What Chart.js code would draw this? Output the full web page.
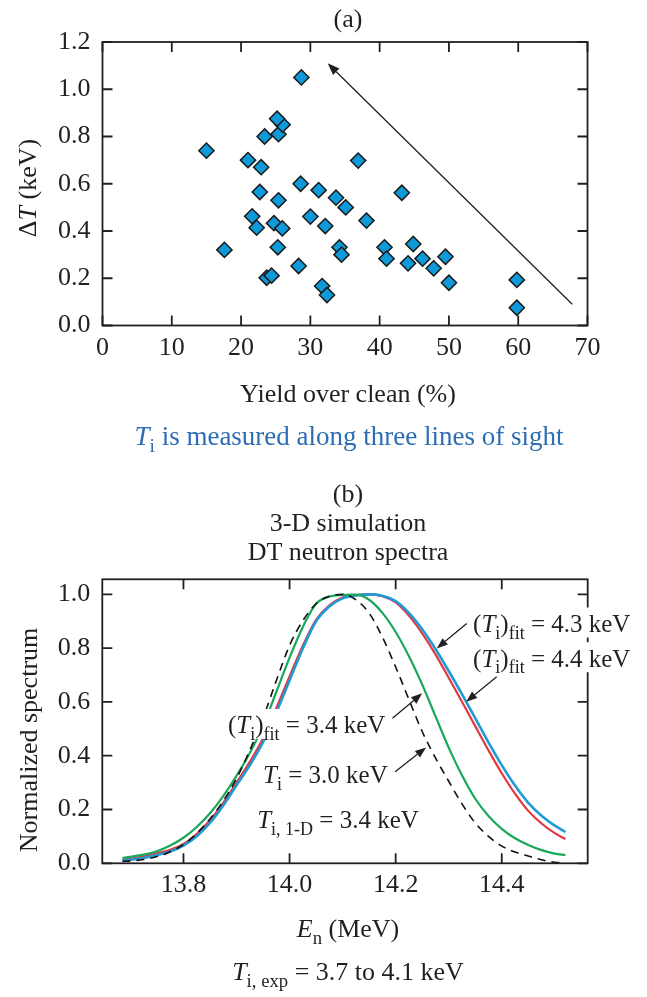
<!DOCTYPE html>
<html>
<head>
<meta charset="utf-8">
<script src="https://cdn.jsdelivr.net/npm/chart.js@4/dist/chart.umd.min.js"></script>
<style>
  html, body { margin: 0; padding: 0; background: #fff; }
  #wrap { position: relative; width: 647px; height: 997px; overflow: hidden; background: #fff; }
  canvas { position: absolute; left: 0; }
  #chartA { top: 0; }
  #chartB { top: 460px; }
</style>
</head>
<body>
<div id="wrap">
  <canvas id="chartA" width="647" height="460"></canvas>
  <canvas id="chartB" width="647" height="537"></canvas>
</div>
<script>
// ---------- panel (a): temperature difference vs. yield ----------
const yieldOverClean = [15.0, 21.0, 22.9, 23.4, 25.4, 26.0, 25.2, 28.7, 22.7, 25.4,
                        28.6, 31.2, 33.7, 35.1, 36.9, 38.1, 21.6, 22.25, 24.75, 25.95,
                        30.0, 32.15, 17.6, 25.3, 34.2, 34.5, 40.7, 41.0, 28.3, 23.7,
                        24.4, 31.7, 32.4, 43.2, 44.85, 44.1, 46.2, 47.8, 49.5, 50.0,
                        59.8, 59.8];
const deltaT = [0.74, 0.70, 0.67, 0.80, 0.81, 0.85, 0.875, 1.05, 0.565, 0.53,
                0.60, 0.573, 0.541, 0.50, 0.698, 0.444, 0.462, 0.414, 0.433, 0.411,
                0.461, 0.421, 0.32, 0.331, 0.331, 0.30, 0.331, 0.283, 0.252, 0.202,
                0.211, 0.167, 0.129, 0.562, 0.345, 0.263, 0.283, 0.242, 0.291, 0.181,
                0.193, 0.075];
const xTicksA = [0, 10, 20, 30, 40, 50, 60, 70];
const yTicksA = [0, 0.2, 0.4, 0.6, 0.8, 1.0, 1.2];
const trendTail = [67.8, 0.09];
const trendHead = [32.5, 1.11];

// ---------- panel (b): DT neutron spectra ----------
const energyMeV = [13.685, 13.700, 13.725, 13.750, 13.775, 13.800, 13.825, 13.850, 13.875,
                   13.900, 13.925, 13.950, 13.975, 14.000, 14.025, 14.050, 14.075, 14.100,
                   14.125, 14.150, 14.175, 14.200, 14.225, 14.250, 14.275, 14.300, 14.325,
                   14.350, 14.375, 14.400, 14.425, 14.450, 14.475, 14.500, 14.520];
const specFit44 = [0.010, 0.013, 0.020, 0.031, 0.044, 0.066, 0.101, 0.150, 0.215,
                   0.290, 0.364, 0.450, 0.561, 0.680, 0.799, 0.900, 0.955, 0.985,
                   0.996, 1.000, 0.995, 0.975, 0.931, 0.870, 0.797, 0.715, 0.629,
                   0.540, 0.450, 0.365, 0.289, 0.225, 0.177, 0.140, 0.117];
const specFit43 = [0.014, 0.017, 0.025, 0.037, 0.050, 0.072, 0.109, 0.160, 0.225,
                   0.300, 0.377, 0.465, 0.577, 0.695, 0.809, 0.905, 0.959, 0.988,
                   0.997, 1.000, 0.993, 0.970, 0.921, 0.855, 0.777, 0.690, 0.601,
                   0.510, 0.420, 0.335, 0.259, 0.195, 0.148, 0.112, 0.090];
const specFit34 = [0.020, 0.024, 0.032, 0.045, 0.066, 0.095, 0.135, 0.186, 0.250,
                   0.325, 0.410, 0.510, 0.637, 0.765, 0.879, 0.965, 0.992, 0.998,
                   0.999, 0.980, 0.931, 0.860, 0.770, 0.665, 0.547, 0.430, 0.327,
                   0.240, 0.176, 0.128, 0.093, 0.068, 0.049, 0.036, 0.031];
const specTi30  = [0.007, 0.009, 0.014, 0.025, 0.043, 0.070, 0.111, 0.165, 0.232,
                   0.315, 0.420, 0.540, 0.679, 0.810, 0.902, 0.965, 0.993, 1.000,
                   0.980, 0.930, 0.841, 0.730, 0.609, 0.490, 0.392, 0.305, 0.221,
                   0.150, 0.100, 0.064, 0.042, 0.027, 0.013, 0.004, 0.001];
const xTicksB = [13.8, 14.0, 14.2, 14.4];
const yTicksB = [0, 0.2, 0.4, 0.6, 0.8, 1.0];

// ---------- shared styling ----------
const FONT = "'Liberation Serif', 'Times New Roman', Times, serif";
const INK = '#231f20';
const TICK_LEN = 10;
const N = 0, I = 1, S = 2;   // normal, italic, subscript

function partFont(p, size) {
  const s = p[1] === S ? size * 0.72 : size;
  return (p[1] === I ? 'italic ' : '') + s + 'px ' + FONT;
}
function richWidth(ctx, parts, size) {
  let w = 0;
  for (const p of parts) { ctx.font = partFont(p, size); w += ctx.measureText(p[0]).width; }
  return w;
}
function drawRich(ctx, parts, x, y, size, align, color) {
  const w = richWidth(ctx, parts, size);
  let cx = align === 'center' ? x - w / 2 : (align === 'right' ? x - w : x);
  ctx.fillStyle = color;
  ctx.textAlign = 'left';
  ctx.textBaseline = 'alphabetic';
  for (const p of parts) {
    ctx.font = partFont(p, size);
    ctx.fillText(p[0], cx, y + (p[1] === S ? size * 0.27 : 0));
    cx += ctx.measureText(p[0]).width;
  }
  return w;
}
function drawArrow(ctx, x0, y0, x1, y1, head, half) {
  const a = Math.atan2(y1 - y0, x1 - x0);
  const bx = x1 - Math.cos(a) * head, by = y1 - Math.sin(a) * head;
  ctx.beginPath();
  ctx.moveTo(x0, y0);
  ctx.lineTo(bx, by);
  ctx.stroke();
  ctx.beginPath();
  ctx.moveTo(x1, y1);
  ctx.lineTo(bx + Math.sin(a) * half, by - Math.cos(a) * half);
  ctx.lineTo(bx - Math.sin(a) * half, by + Math.cos(a) * half);
  ctx.closePath();
  ctx.fill();
}
function drawFrame(chart, xt, yt) {
  const { ctx, chartArea: a, scales: { x, y } } = chart;
  ctx.save();
  ctx.strokeStyle = INK;
  ctx.lineWidth = 1.8;
  ctx.strokeRect(a.left, a.top, a.right - a.left, a.bottom - a.top);
  ctx.beginPath();
  for (const v of xt) {
    const px = x.getPixelForValue(v);
    ctx.moveTo(px, a.bottom); ctx.lineTo(px, a.bottom - TICK_LEN);
    ctx.moveTo(px, a.top);    ctx.lineTo(px, a.top + TICK_LEN);
  }
  for (const v of yt) {
    const py = y.getPixelForValue(v);
    ctx.moveTo(a.left, py);  ctx.lineTo(a.left + TICK_LEN, py);
    ctx.moveTo(a.right, py); ctx.lineTo(a.right - TICK_LEN, py);
  }
  ctx.stroke();
  ctx.restore();
}
function axisConf(min, max, ticks, fmt, fit, pad, horizontal) {
  return {
    type: 'linear', min, max,
    afterBuildTicks: s => { s.ticks = ticks.map(v => ({ value: v })); },
    afterFit: s => { if (horizontal) s.height = fit; else s.width = fit; },
    grid: { display: false, drawTicks: false },
    border: { display: false },
    ticks: {
      padding: pad, color: INK, font: { family: FONT, size: 26 },
      autoSkip: false, maxRotation: 0, minRotation: 0,
      callback: v => fmt(v)
    }
  };
}

// ---------- panel (a) ----------
const panelA = {
  id: 'panelA',
  afterDraw(chart) {
    const { ctx, scales: { x, y } } = chart;
    drawFrame(chart, xTicksA, yTicksA);
    ctx.save();
    ctx.strokeStyle = INK; ctx.fillStyle = INK; ctx.lineWidth = 1.3;
    drawArrow(ctx, x.getPixelForValue(trendTail[0]), y.getPixelForValue(trendTail[1]),
                   x.getPixelForValue(trendHead[0]), y.getPixelForValue(trendHead[1]), 12, 4.5);
    drawRich(ctx, [['(a)', N]], 348, 27, 26, 'center', INK);
    drawRich(ctx, [['Yield over clean (%)', N]], 348, 402, 26, 'center', INK);
    drawRich(ctx, [['T', I], ['i', S], [' is measured along three lines of sight', N]],
             349, 445, 27, 'center', '#2e6db4');
    ctx.translate(36, 188);
    ctx.rotate(-Math.PI / 2);
    drawRich(ctx, [['\u0394', N], ['T', I], [' (keV)', N]], 0, 0, 26, 'center', INK);
    ctx.restore();
  }
};

new Chart(document.getElementById('chartA'), {
  type: 'scatter',
  data: {
    datasets: [{
      data: yieldOverClean.map((v, i) => ({ x: v, y: deltaT[i] })),
      pointStyle: 'rectRot',
      pointRadius: 7.6,
      pointBackgroundColor: '#0e9ad8',
      pointBorderColor: '#1a1a1a',
      pointBorderWidth: 1.5
    }]
  },
  options: {
    responsive: false, animation: false, devicePixelRatio: 1, events: [],
    layout: { padding: { top: 42, right: 59.5, left: 0, bottom: 0 } },
    plugins: { legend: { display: false }, tooltip: { enabled: false } },
    scales: {
      x: axisConf(0, 70, xTicksA, v => String(v), 134.5, 7, true),
      y: axisConf(0, 1.2, yTicksA, v => v.toFixed(1), 102.5, 12, false)
    }
  },
  plugins: [panelA]
});

// ---------- panel (b) ----------
const notesB = [
  { parts: [['(', N], ['T', I], ['i', S], [')', N], ['fit', S], [' = 4.3 keV', N]],
    at: [14.346, 0.860], tail: [14.334, 0.892], tip: [14.2775, 0.799] },
  { parts: [['(', N], ['T', I], ['i', S], [')', N], ['fit', S], [' = 4.4 keV', N]],
    at: [14.346, 0.731], tail: [14.3905, 0.694], tip: [14.333, 0.601] },
  { parts: [['(', N], ['T', I], ['i', S], [')', N], ['fit', S], [' = 3.4 keV', N]],
    at: [13.884, 0.483], tail: [14.194, 0.539], tip: [14.2498, 0.632] },
  { parts: [['T', I], ['i', S], [' = 3.0 keV', N]],
    at: [13.950, 0.297], tail: [14.199, 0.3405], tip: [14.2573, 0.4305] },
  { parts: [['T', I], ['i, 1-D', S], [' = 3.4 keV', N]],
    at: [13.939, 0.130] }
];

const panelB = {
  id: 'panelB',
  afterDraw(chart) {
    const { ctx, scales: { x, y } } = chart;
    drawFrame(chart, xTicksB, yTicksB);
    ctx.save();
    const size = 25;
    // clear a box under each label, then write it
    for (const n of notesB) {
      const px = x.getPixelForValue(n.at[0]), py = y.getPixelForValue(n.at[1]);
      const w = richWidth(ctx, n.parts, size);
      ctx.fillStyle = '#fff';
      ctx.fillRect(px - 3, py - size * 0.98, w + 6, size * 1.2);
    }
    for (const n of notesB) {
      const px = x.getPixelForValue(n.at[0]), py = y.getPixelForValue(n.at[1]);
      drawRich(ctx, n.parts, px, py, size, 'left', INK);
    }
    ctx.strokeStyle = INK; ctx.fillStyle = INK; ctx.lineWidth = 1.3;
    for (const n of notesB) {
      if (!n.tail) continue;
      drawArrow(ctx, x.getPixelForValue(n.tail[0]), y.getPixelForValue(n.tail[1]),
                     x.getPixelForValue(n.tip[0]), y.getPixelForValue(n.tip[1]), 11, 4.2);
    }
    drawRich(ctx, [['(b)', N]], 348, 41.7, 26, 'center', INK);
    drawRich(ctx, [['3-D simulation', N]], 348, 70.7, 26, 'center', INK);
    drawRich(ctx, [['DT neutron spectra', N]], 348, 100, 26, 'center', INK);
    drawRich(ctx, [['E', I], ['n', S], [' (MeV)', N]], 348, 477, 26, 'center', INK);
    drawRich(ctx, [['T', I], ['i, exp', S], [' = 3.7 to 4.1 keV', N]], 348, 520, 26, 'center', INK);
    ctx.translate(37, 280);
    ctx.rotate(-Math.PI / 2);
    drawRich(ctx, [['Normalized spectrum', N]], 0, 0, 26, 'center', INK);
    ctx.restore();
  }
};

function curve(values, color, width, dash, order) {
  return {
    data: energyMeV.map((e, i) => ({ x: e, y: values[i] })),
    borderColor: color, borderWidth: width, borderDash: dash,
    pointRadius: 0, fill: false, cubicInterpolationMode: 'monotone', order
  };
}

new Chart(document.getElementById('chartB'), {
  type: 'line',
  data: {
    datasets: [
      curve(specFit43, '#e2383f', 2.2, [], 4),
      curve(specFit44, '#1f9ad6', 2.6, [], 3),
      curve(specFit34, '#19a75c', 2.2, [], 2),
      curve(specTi30, '#111111', 1.6, [8, 6], 1)
    ]
  },
  options: {
    responsive: false, animation: false, devicePixelRatio: 1, events: [],
    layout: { padding: { top: 119.3, right: 59.3, left: 0, bottom: 0 } },
    plugins: { legend: { display: false }, tooltip: { enabled: false } },
    scales: {
      x: axisConf(13.647, 14.562, xTicksB, v => v.toFixed(1), 133.7, 6, true),
      y: axisConf(0, 1.056, yTicksB, v => v.toFixed(1), 102.3, 12, false)
    }
  },
  plugins: [panelB]
});
</script>
</body>
</html>
